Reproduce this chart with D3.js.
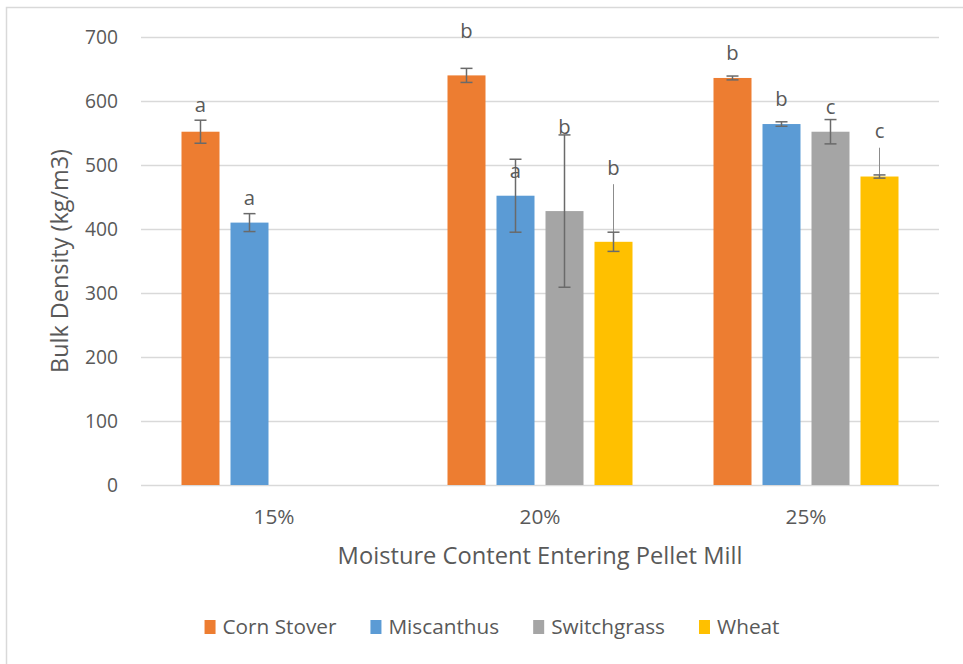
<!DOCTYPE html>
<html>
<head>
<meta charset="utf-8">
<script src="https://cdn.jsdelivr.net/npm/d3@7"></script>
<style>
  body { margin: 0; background: #fff; }
  svg text { font-family: "Segoe UI", "Open Sans", sans-serif; fill: #595959; }
</style>
</head>
<body>
<div id="chart"></div>
<script>
var categories = ["15%", "20%", "25%"];
var seriesNames = ["Corn Stover", "Miscanthus", "Switchgrass", "Wheat"];
var colors = ["#ED7D31", "#5B9BD5", "#A5A5A5", "#FFC000"];

// bar heights (kg/m3)
var cornStover = [552, 640, 636];
var miscanthus = [410, 452, 564];
var switchgrass = [null, 428, 552];
var wheat = [null, 380, 482];

// +/- error
var cornStoverErr = [18, 11, 3];
var miscanthusErr = [14, 57, 3.5];
var switchgrassErr = [null, 119, 19];
var wheatErr = [null, 15, 2.5];

// thin extra line above the wheat error bars
var wheatLineTop = [null, 470, 527];

// significance letters and where they sit (value units)
var cornStoverLetters = ["a", "b", "b"];
var miscanthusLetters = ["a", "a", "b"];
var switchgrassLetters = [null, "b", "c"];
var wheatLetters = [null, "b", "c"];
var cornStoverLetterAt = [594, 709, 675];
var miscanthusLetterAt = [448, 491, 603];
var switchgrassLetterAt = [null, 559, 590];
var wheatLetterAt = [null, 495, 554];

var yTicks = [0, 100, 200, 300, 400, 500, 600, 700];

var allValues = [cornStover, miscanthus, switchgrass, wheat];
var allErr = [cornStoverErr, miscanthusErr, switchgrassErr, wheatErr];
var allLetters = [cornStoverLetters, miscanthusLetters, switchgrassLetters, wheatLetters];
var allLetterAt = [cornStoverLetterAt, miscanthusLetterAt, switchgrassLetterAt, wheatLetterAt];
var allLineTop = [null, null, null, wheatLineTop];

var svgWidth = 963, svgHeight = 664;
var margin = {top: 37, left: 141, right: 24, bottom: 179};
var chartWidth = svgWidth - margin.left - margin.right;
var chartHeight = svgHeight - margin.top - margin.bottom;

var svg = d3.select("#chart").append("svg")
  .attr("width", svgWidth)
  .attr("height", svgHeight);

// scale a text's font so it spans about `target` px
function fitText(sel, target, base) {
  sel.style("font-size", base + "px");
  var len = sel.node().getComputedTextLength();
  sel.style("font-size", (base * target / len) + "px");
  return base * target / len;
}

// chart frame
svg.append("rect")
  .attr("x", 6.5).attr("y", 7.5)
  .attr("width", 1000).attr("height", 700)
  .attr("fill", "none")
  .attr("stroke", "#d9d9d9")
  .attr("stroke-width", 1.5);

var chartGroup = svg.append("g")
  .attr("transform", `translate(${margin.left}, ${margin.top})`);

var rows = [];
categories.forEach(function(cat, i) {
  seriesNames.forEach(function(s, j) {
    if (allValues[j][i] != null) {
      rows.push({
        cat: cat, series: s, idx: j,
        value: allValues[j][i],
        err: allErr[j][i],
        letter: allLetters[j][i],
        letterAt: allLetterAt[j][i],
        lineTop: allLineTop[j] ? allLineTop[j][i] : null
      });
    }
  });
});

var x0 = d3.scaleBand()
  .domain(categories)
  .range([0, chartWidth]);

var x1 = d3.scaleBand()
  .domain(seriesNames)
  .range([0, x0.bandwidth()])
  .paddingInner(0.2245)
  .paddingOuter(0.8265);

var yScale = d3.scaleLinear()
  .domain([0, 700])
  .range([chartHeight, 0]);

var yAxis = d3.axisLeft(yScale)
  .tickValues(yTicks)
  .tickSize(-chartWidth)
  .tickPadding(23);

var yG = chartGroup.append("g").call(yAxis);
yG.select(".domain").remove();
yG.selectAll(".tick line").attr("stroke", "#d9d9d9").attr("stroke-width", 1.3);
var tickSize = fitText(yG.select(".tick:last-of-type text"), 33, 19);
yG.selectAll(".tick text").style("font-size", tickSize + "px").attr("fill", "#595959");

var xAxis = d3.axisBottom(x0).tickSize(0).tickPadding(24);
var xG = chartGroup.append("g")
  .attr("transform", `translate(0, ${chartHeight})`)
  .call(xAxis);
xG.select(".domain").remove();
var xTickSize = fitText(xG.select(".tick text"), 41, 19);
xG.selectAll(".tick text").style("font-size", xTickSize + "px").attr("fill", "#595959");

var bars = chartGroup.selectAll(".bar")
  .data(rows)
  .enter()
  .append("rect")
  .attr("class", "bar")
  .attr("x", d => x0(d.cat) + x1(d.series))
  .attr("width", x1.bandwidth())
  .attr("y", d => yScale(d.value))
  .attr("height", d => chartHeight - yScale(d.value))
  .attr("fill", d => colors[d.idx]);

// thin extra lines
chartGroup.selectAll(".thin")
  .data(rows.filter(d => d.lineTop != null))
  .enter()
  .append("line")
  .attr("x1", d => x0(d.cat) + x1(d.series) + x1.bandwidth() / 2)
  .attr("x2", d => x0(d.cat) + x1(d.series) + x1.bandwidth() / 2)
  .attr("y1", d => yScale(d.value + d.err))
  .attr("y2", d => yScale(d.lineTop))
  .attr("stroke", "#8c8c8c")
  .attr("stroke-width", 1);

// error bars
var errG = chartGroup.selectAll(".err")
  .data(rows)
  .enter()
  .append("g")
  .attr("class", "err")
  .attr("transform", d => `translate(${x0(d.cat) + x1(d.series) + x1.bandwidth() / 2}, 0)`);

errG.append("line")
  .attr("y1", d => yScale(d.value - d.err))
  .attr("y2", d => yScale(d.value + d.err))
  .attr("stroke", "#6a6a6a").attr("stroke-width", 1.5);
errG.append("line")
  .attr("x1", -6).attr("x2", 6)
  .attr("y1", d => yScale(d.value - d.err))
  .attr("y2", d => yScale(d.value - d.err))
  .attr("stroke", "#6a6a6a").attr("stroke-width", 1.5);
errG.append("line")
  .attr("x1", -6).attr("x2", 6)
  .attr("y1", d => yScale(d.value + d.err))
  .attr("y2", d => yScale(d.value + d.err))
  .attr("stroke", "#6a6a6a").attr("stroke-width", 1.5);

// letters
chartGroup.selectAll(".letter")
  .data(rows)
  .enter()
  .append("text")
  .attr("class", "letter")
  .attr("x", d => x0(d.cat) + x1(d.series) + x1.bandwidth() / 2)
  .attr("y", d => yScale(d.letterAt))
  .attr("dy", "0.35em")
  .attr("text-anchor", "middle")
  .style("font-size", (tickSize + 1) + "px")
  .text(d => d.letter);

// axis titles
var xTitle = svg.append("text")
  .attr("x", margin.left + chartWidth / 2)
  .attr("y", 556)
  .attr("dy", "0.35em")
  .attr("text-anchor", "middle")
  .text("Moisture Content Entering Pellet Mill");
fitText(xTitle, 405, 21);

var yTitle = svg.append("text")
  .attr("transform", "translate(60, 261) rotate(-90)")
  .attr("dy", "0.35em")
  .attr("text-anchor", "middle")
  .text("Bulk Density (kg/m3)");
fitText(yTitle, 224, 20);

// legend
var legend = svg.append("g").attr("transform", "translate(0, 627)");
var items = legend.selectAll(".item")
  .data(seriesNames)
  .enter()
  .append("g")
  .attr("class", "item");
items.append("rect")
  .attr("y", -7).attr("width", 11).attr("height", 14)
  .attr("fill", (d, i) => colors[i]);
var legendTexts = items.append("text")
  .attr("x", 18)
  .attr("dy", "0.35em")
  .text(d => d);
var legendSize = fitText(legendTexts.filter((d, i) => i === 0), 114, 19);
legendTexts.style("font-size", legendSize + "px");

var widths = [];
items.each(function() {
  widths.push(18 + d3.select(this).select("text").node().getComputedTextLength());
});
var gap = 34;
var total = d3.sum(widths) + gap * (widths.length - 1);
var cursor = 492 - total / 2;
items.attr("transform", function(d, i) {
  var t = `translate(${cursor}, 0)`;
  cursor += widths[i] + gap;
  return t;
});
</script>
</body>
</html>
